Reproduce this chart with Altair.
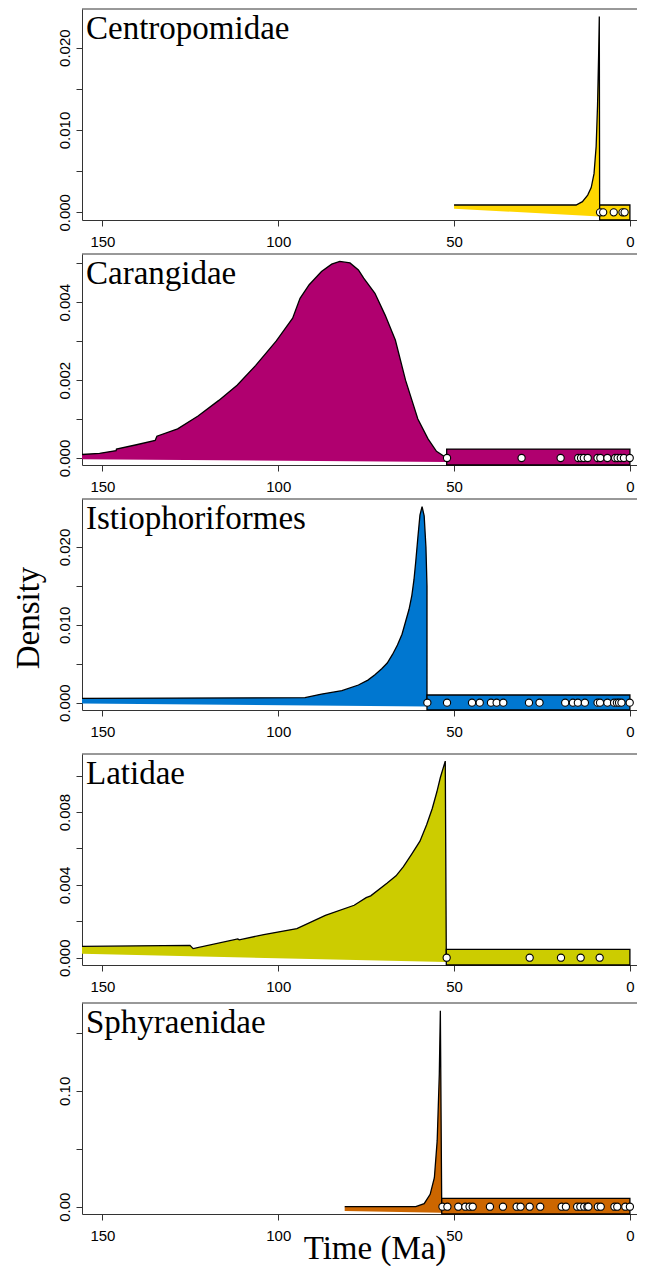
import altair as alt
import pandas as pd

# ---------------- shared layout values ----------------
X_LEFT, X_RIGHT = 155.8, -6.0     # time axis runs right-to-left (Ma)
W, H = 569, 211
X_TICKS = [150, 100, 50, 0]
SERIF = "Liberation Serif"
SANS = "Liberation Sans"

# ---------------- Centropomidae ----------------
cen_name = "Centropomidae"
cen_color = "#FFD700"
cen_up_t = [50.0, 15.3, 13.5, 12.0, 11.0, 10.2, 9.6, 9.2, 8.9, 8.7]
cen_up_d = [0.00089, 0.00089, 0.0013, 0.0021, 0.0030, 0.0047, 0.0080, 0.0130, 0.0190, 0.0238]
cen_lo_t = [8.6, 50.0]
cen_lo_d = [-0.0005, 0.00044]
cen_box = [8.6, 0.0, 0.00089]
cen_fossils = [8.5, 7.6, 4.6, 2.1, 1.5]
cen_ydom = [-0.00093, 0.0247]
cen_yticks = [0.0, 0.005, 0.010, 0.015, 0.020]
cen_ylabels = [0.0, 0.010, 0.020]

# ---------------- Carangidae ----------------
car_name = "Carangidae"
car_color = "#B0006F"
car_up_t = [155.8, 150.8, 146.1, 146.0, 140.3, 135.0, 134.5, 128.6, 122.8, 116.9, 111.7,
            106.4, 100.6, 95.9, 93.8, 91.2, 87.7, 84.8, 82.5, 79.6, 77.2, 75.7, 72.5,
            69.6, 66.7, 63.8, 60.3, 57.4, 55.0, 52.1]
car_up_d = [0.00009, 0.00012, 0.00019, 0.00023, 0.00034, 0.00045, 0.00056, 0.00075, 0.00108,
            0.00148, 0.00187, 0.00238, 0.0030, 0.00359, 0.0041, 0.00445, 0.00479, 0.00498,
            0.00505, 0.00501, 0.00483, 0.00462, 0.00423, 0.00367, 0.00303, 0.0020, 0.0010,
            0.00049, 0.00017, 0.0]
car_lo_t = [52.1, 155.8]
car_lo_d = [-0.0001, -0.00003]
car_box = [52.1, 0.0, 0.00023]
car_fossils = [52.0, 30.8, 19.7, 14.7, 13.9, 13.1, 12.0, 9.2, 8.4, 6.4, 4.2, 3.5, 2.6, 1.7, 0.05]
car_ydom = [-0.00018, 0.00524]
car_yticks = [0.0, 0.001, 0.002, 0.003, 0.004, 0.005]
car_ylabels = [0.0, 0.002, 0.004]

# ---------------- Istiophoriformes ----------------
ist_name = "Istiophoriformes"
ist_color = "#0077D0"
ist_up_t = [155.8, 92.4, 87.7, 81.9, 77.2, 74.5, 72.5, 70.5, 69.0, 67.5, 66.1, 64.8, 63.8,
            62.8, 62.0, 61.4, 60.9, 60.3, 59.7, 59.1, 58.5, 58.0, 57.7]
ist_up_d = [0.00056, 0.00064, 0.0011, 0.00154, 0.00227, 0.0029, 0.0036, 0.0044, 0.0051,
            0.0062, 0.0074, 0.0088, 0.0104, 0.0120, 0.0138, 0.0158, 0.0181, 0.0212, 0.0241,
            0.0252, 0.0240, 0.0200, 0.0150]
ist_lo_t = [57.7, 155.8]
ist_lo_d = [-0.0005, -0.0001]
ist_box = [57.7, 0.0, 0.00099]
ist_fossils = [57.6, 52.0, 44.9, 42.7, 39.5, 37.9, 36.0, 28.7, 25.7, 18.4, 16.2, 14.8, 12.8,
               9.2, 8.5, 6.4, 4.5, 3.7, 3.1, 2.4, 0.05]
ist_ydom = [-0.00094, 0.02617]
ist_yticks = [0.0, 0.005, 0.010, 0.015, 0.020]
ist_ylabels = [0.0, 0.010, 0.020]

# ---------------- Latidae ----------------
lat_name = "Latidae"
lat_color = "#CCCC00"
lat_up_t = [155.8, 125.1, 124.2, 111.5, 111.1, 104.1, 94.7, 86.6, 78.4, 75.0, 73.7, 69.0,
            66.5, 64.4, 62.0, 59.7, 57.8, 56.2, 54.9, 53.9, 52.5]
lat_up_d = [0.00062, 0.00068, 0.0005, 0.00103, 0.00098, 0.00127, 0.0016, 0.00233, 0.00288,
            0.0033, 0.0034, 0.0041, 0.0045, 0.0050, 0.0057, 0.0064, 0.0073, 0.0082, 0.0091,
            0.0099, 0.0108]
lat_lo_t = [52.2, 155.8]
lat_lo_d = [-0.00024, 0.00022]
lat_box = [52.2, 0.0, 0.00046]
lat_fossils = [52.1, 28.5, 19.6, 14.0, 8.6]
lat_ydom = [-0.0004, 0.01119]
lat_yticks = [0.0, 0.002, 0.004, 0.006, 0.008, 0.010]
lat_ylabels = [0.0, 0.004, 0.008]

# ---------------- Sphyraenidae ----------------
sph_name = "Sphyraenidae"
sph_color = "#CC6600"
sph_up_t = [81.1, 60.9, 58.5, 56.8, 55.6, 54.8, 54.2, 53.9]
sph_up_d = [0.0, 0.0, 0.0026, 0.0107, 0.025, 0.057, 0.114, 0.169]
sph_lo_t = [53.5, 81.1]
sph_lo_d = [-0.0052, -0.0037]
sph_box = [53.5, 0.0, 0.0072]
sph_fossils = [53.3, 51.9, 48.8, 46.8, 45.6, 44.7, 39.8, 36.1, 32.2, 31.1, 28.5, 25.5, 19.4,
               18.2, 15.0, 14.1, 13.0, 12.1, 11.8, 9.1, 8.3, 4.4, 3.6, 1.3, 0.0]
sph_ydom = [-0.0063, 0.1758]
sph_yticks = [0.0, 0.05, 0.10, 0.15]
sph_ylabels = [0.0, 0.10]


FRAME = "#333333"


def panel(name, color, up_t, up_d, lo_t, lo_d, box, fossils, ydom, yticks, ylabels, fmt,
          extra=None):
    poly = pd.DataFrame({"t": up_t + lo_t, "d": up_d + lo_d,
                         "o": list(range(len(up_t) + len(lo_t)))})
    outline = pd.DataFrame({"t": up_t + lo_t[:1], "d": up_d + lo_d[:1],
                            "o": list(range(len(up_t) + 1))})
    rect = pd.DataFrame({"t": [box[0]], "t2": [box[1]], "d": [ydom[0]], "d2": [box[2]]})
    pts = pd.DataFrame({"t": fossils, "d": [0.0] * len(fossils)})
    lab = pd.DataFrame({"name": [name]})

    xsc = alt.Scale(domain=[X_RIGHT, X_LEFT], reverse=True, nice=False, zero=False)
    ysc = alt.Scale(domain=ydom, nice=False, zero=False)
    label_list = "[" + ",".join(repr(v) for v in ylabels) + "]"
    xax = alt.Axis(values=X_TICKS, format="d", title=None, grid=False, tickSize=6,
                   labelPadding=8, labelFont=SANS, labelFontSize=15, labelColor="black",
                   domainColor=FRAME, tickColor=FRAME, labelFlush=False,
                   labelOverlap=False)
    yax = alt.Axis(values=yticks, format=fmt, title=None, grid=False, tickSize=6,
                   labelPadding=7, labelFont=SANS, labelFontSize=15, labelColor="black",
                   labelAngle=270, labelAlign="center", labelBaseline="alphabetic",
                   labelExpr="indexof(" + label_list + ", datum.value) >= 0 ? datum.label : ''",
                   domainColor=FRAME, tickColor=FRAME, labelFlush=False,
                   labelOverlap=False)

    base_x = alt.X("t:Q", scale=xsc, axis=xax)
    base_y = alt.Y("d:Q", scale=ysc, axis=yax)

    fill = alt.Chart(poly).mark_line(fill=color, strokeWidth=0, clip=True).encode(
        x=base_x, y=base_y, order="o:Q")
    line = alt.Chart(outline).mark_line(color="black", strokeWidth=1.3, clip=True).encode(
        x="t:Q", y="d:Q", order="o:Q")
    box_mark = alt.Chart(rect).mark_rect(fill=color, stroke="black", strokeWidth=1.3).encode(
        x="t:Q", x2="t2:Q", y="d:Q", y2="d2:Q")
    dots = alt.Chart(pts).mark_point(filled=True, fill="white", stroke="black",
                                     strokeWidth=1.1, size=52, opacity=1).encode(
        x="t:Q", y="d:Q")
    top = alt.Chart(lab).mark_rule(color=FRAME, strokeWidth=1).encode(
        x=alt.value(0), x2=alt.value(W), y=alt.value(0))
    title = alt.Chart(lab).mark_text(align="left", baseline="alphabetic", font=SERIF,
                                     fontSize=33, color="black").encode(
        x=alt.value(4), y=alt.value(30), text="name:N")
    layers = [fill, line, box_mark, dots, top, title]
    if extra is not None:
        layers += extra
    return alt.layer(*layers).properties(width=W, height=H)


dens_df = pd.DataFrame({"txt": ["Density"]})
dens = alt.Chart(dens_df).mark_text(angle=270, align="center", baseline="middle", font=SERIF,
                                    fontSize=33, color="black").encode(
    x=alt.value(-53), y=alt.value(119), text="txt:N")
time_df = pd.DataFrame({"txt": ["Time (Ma)"]})
time_lab = alt.Chart(time_df).mark_text(align="center", baseline="alphabetic", font=SERIF,
                                        fontSize=33, color="black").encode(
    x=alt.value(293), y=alt.value(256), text="txt:N")

p1 = panel(cen_name, cen_color, cen_up_t, cen_up_d, cen_lo_t, cen_lo_d, cen_box, cen_fossils,
           cen_ydom, cen_yticks, cen_ylabels, ".3f")
p2 = panel(car_name, car_color, car_up_t, car_up_d, car_lo_t, car_lo_d, car_box, car_fossils,
           car_ydom, car_yticks, car_ylabels, ".3f")
p3 = panel(ist_name, ist_color, ist_up_t, ist_up_d, ist_lo_t, ist_lo_d, ist_box, ist_fossils,
           ist_ydom, ist_yticks, ist_ylabels, ".3f", extra=[dens])
p4 = panel(lat_name, lat_color, lat_up_t, lat_up_d, lat_lo_t, lat_lo_d, lat_box, lat_fossils,
           lat_ydom, lat_yticks, lat_ylabels, ".3f")
p5 = panel(sph_name, sph_color, sph_up_t, sph_up_d, sph_lo_t, sph_lo_d, sph_box, sph_fossils,
           sph_ydom, sph_yticks, sph_ylabels, ".2f", extra=[time_lab])

upper = alt.vconcat(p1, p2, p3, spacing=4)
lower = alt.vconcat(p4, p5, spacing=8)
chart = alt.vconcat(upper, lower, spacing=14).configure_view(stroke=None).properties(
    padding={"left": 5, "top": 0, "right": -15, "bottom": 0})

chart.save("out.html", embed_options={"renderer": "svg", "actions": False})
